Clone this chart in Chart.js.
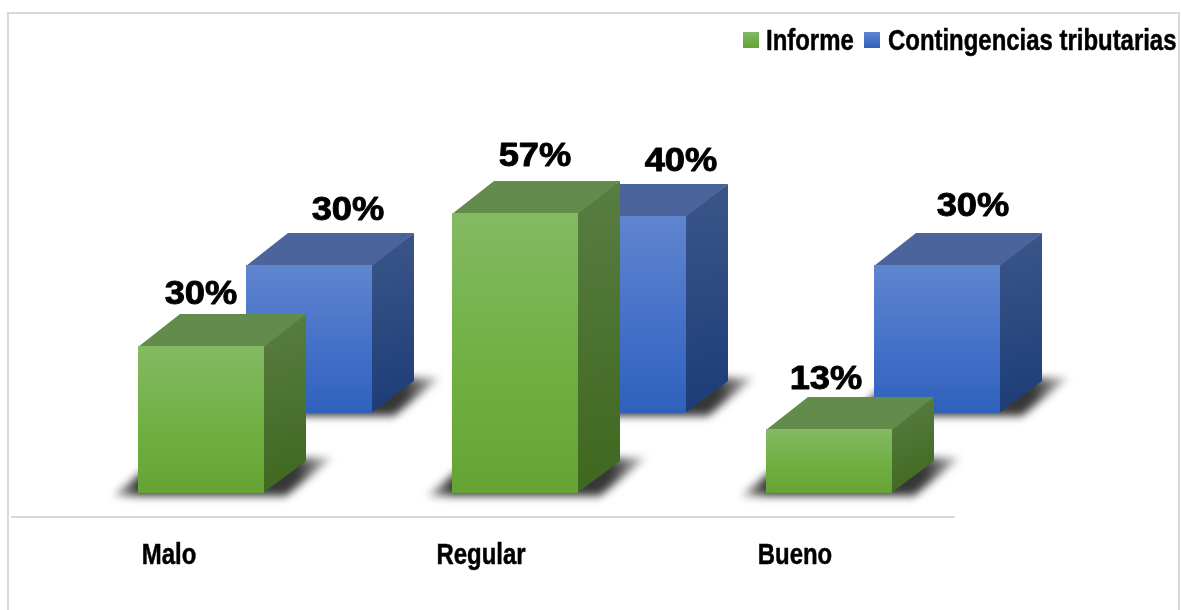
<!DOCTYPE html>
<html>
<head>
<meta charset="utf-8">
<title>Informe y contingencias tributarias</title>
<script src="https://cdn.jsdelivr.net/npm/chart.js@4/dist/chart.umd.min.js"></script>
<style>
  html, body { margin: 0; padding: 0; background: #fff; }
  #wrap { width: 1181px; height: 610px; }
</style>
</head>
<body>
<div id="wrap"><canvas id="chart"></canvas></div>
<script>
"use strict";

const categories = ['Malo', 'Regular', 'Bueno'];
const informeValues = [30, 57, 13];
const contingenciasValues = [30, 40, 30];
const seriesNames = ['Informe', 'Contingencias tributarias'];

// cuboid geometry, shared by both rows of bars
const DEPTH_X = 42;
const DEPTH_Y = 32;
const PX_PER_UNIT = 4.92;
const REAR_LIFT = 80.5 / PX_PER_UNIT; // rear row sits about 80px higher on the floor
const Y_MIN = -4.8;
const Y_MAX = 90;
const AXIS_Y = 517;

const rowStyles = [
  {
    shiftX: 32,
    front: ['#83ba63', '#70b042', '#65a334'],
    top: '#638b4b',
    side: ['#587e42', '#3e671e'],
    labelDx: [0, 20, -3],
    labelRise: [42, 47, 40]
  },
  {
    shiftX: 140,
    front: ['#6085cf', '#4471c8', '#2f61bb'],
    top: '#4b659c',
    side: ['#3c5689', '#1c3c77'],
    labelDx: [39, 58, 36],
    labelRise: [45, 45, 49]
  }
];

const tickNudge = [0, -2, -2];

// no narrow face is installed, so the bold sans is squeezed sideways
function narrowText(ctx, text, x, y, align) {
  ctx.save();
  ctx.translate(x, y);
  ctx.scale(0.825, 1);
  ctx.font = 'bold 29px "Liberation Sans"';
  ctx.textAlign = align;
  ctx.textBaseline = 'alphabetic';
  ctx.fillStyle = '#000';
  ctx.strokeStyle = '#000';
  ctx.lineWidth = 0.5;
  ctx.strokeText(text, 0, 0);
  ctx.fillText(text, 0, 0);
  ctx.restore();
}

function polygon(ctx, pts, fill) {
  ctx.beginPath();
  pts.forEach(function(p, i) {
    if (i === 0) ctx.moveTo(p[0], p[1]); else ctx.lineTo(p[0], p[1]);
  });
  ctx.closePath();
  ctx.fillStyle = fill;
  ctx.fill();
}

function drawCuboid(ctx, bar, style) {
  let left = Math.round(bar.x + style.shiftX - bar.width / 2);
  let right = left + Math.round(bar.width);
  let top = Math.round(bar.y);
  let base = Math.round(bar.base);

  // soft shadow on the floor, fading at its far corners
  let shadow = ctx.createLinearGradient(left - 26, 0, right + 68, 0);
  shadow.addColorStop(0, 'rgba(45,45,45,0.3)');
  shadow.addColorStop(0.12, 'rgba(45,45,45,0.95)');
  shadow.addColorStop(0.84, 'rgba(45,45,45,0.95)');
  shadow.addColorStop(1, 'rgba(45,45,45,0.25)');
  ctx.save();
  ctx.filter = 'blur(4px)';
  polygon(ctx, [
    [left - 25, base + 3], [right + 22, base + 3],
    [right + 68, base - 35], [left + 21, base - 35]
  ], shadow);
  ctx.restore();

  let frontFill = ctx.createLinearGradient(0, top, 0, base);
  frontFill.addColorStop(0, style.front[0]);
  frontFill.addColorStop(0.55, style.front[1]);
  frontFill.addColorStop(1, style.front[2]);

  let sideFill = ctx.createLinearGradient(right, top - DEPTH_Y, right + DEPTH_X, base);
  sideFill.addColorStop(0, style.side[0]);
  sideFill.addColorStop(1, style.side[1]);

  polygon(ctx, [
    [right - 1, top], [right + DEPTH_X, top - DEPTH_Y],
    [right + DEPTH_X, base - DEPTH_Y], [right - 1, base]
  ], sideFill);
  polygon(ctx, [
    [left, top + 1], [left + DEPTH_X, top - DEPTH_Y],
    [right + DEPTH_X, top - DEPTH_Y], [right, top + 1]
  ], style.top);
  ctx.fillStyle = frontFill;
  ctx.fillRect(left, top, right - left, base - top);
}

const cuboidBars = {
  id: 'cuboidBars',
  beforeDatasetDraw(chart, args) {
    let style = rowStyles[args.index];
    args.meta.data.forEach(function(bar) {
      drawCuboid(chart.ctx, bar, style);
    });
    return false; // flat rectangles are replaced by the cuboids
  }
};

const valueLabels = {
  id: 'valueLabels',
  afterDatasetsDraw(chart) {
    let ctx = chart.ctx;
    chart.data.datasets.forEach(function(ds, d) {
      let style = rowStyles[d];
      chart.getDatasetMeta(d).data.forEach(function(bar, i) {
        ctx.save();
        ctx.translate(bar.x + style.shiftX + style.labelDx[i], bar.y - style.labelRise[i]);
        ctx.scale(1.1, 1);
        ctx.font = 'bold 33px "Liberation Sans"';
        ctx.textAlign = 'center';
        ctx.textBaseline = 'alphabetic';
        ctx.fillStyle = '#000';
        ctx.strokeStyle = '#000';
        ctx.lineWidth = 0.9;
        ctx.lineJoin = 'round';
        ctx.strokeText(ds.data[i] + '%', 0, 0);
        ctx.fillText(ds.data[i] + '%', 0, 0);
        ctx.restore();
      });
    });
  }
};

// category names sit under the axis; the scale only supplies their centres
const categoryTicks = {
  id: 'categoryTicks',
  afterDraw(chart) {
    let scale = chart.scales.x;
    scale.getTicks().forEach(function(tick, i) {
      narrowText(chart.ctx, scale.getLabelForValue(tick.value), scale.getPixelForTick(i) + tickNudge[i], 564, 'center');
    });
  }
};

// legend has tighter box-to-text gaps than the built-in one allows
const topLegend = {
  id: 'topLegend',
  afterDraw(chart) {
    let ctx = chart.ctx;
    let swatchX = [743, 864];
    let textX = [766, 888];
    seriesNames.forEach(function(name, i) {
      let g = ctx.createLinearGradient(0, 32, 0, 48);
      g.addColorStop(0, rowStyles[i].front[0]);
      g.addColorStop(1, rowStyles[i].front[2]);
      ctx.fillStyle = g;
      ctx.fillRect(swatchX[i], 32, 16, 16);
      narrowText(ctx, name, textX[i], 50, 'left');
    });
  }
};

const frame = {
  id: 'frame',
  beforeDraw(chart) {
    let ctx = chart.ctx;
    ctx.save();
    ctx.strokeStyle = '#d9d9d9';
    ctx.lineWidth = 2;
    ctx.beginPath();
    ctx.moveTo(8, 610);
    ctx.lineTo(8, 13);
    ctx.lineTo(1179, 13);
    ctx.lineTo(1179, 610);
    ctx.stroke();
    ctx.restore();
  }
};

new Chart(document.getElementById('chart'), {
  type: 'bar',
  data: {
    labels: categories,
    datasets: [
      { label: seriesNames[0], data: informeValues, yAxisID: 'y', backgroundColor: '#70b042' },
      { label: seriesNames[1], data: contingenciasValues, yAxisID: 'yRear', backgroundColor: '#4471c8' }
    ]
  },
  plugins: [frame, cuboidBars, valueLabels, categoryTicks, topLegend],
  options: {
    responsive: true,
    maintainAspectRatio: false,
    animation: false,
    grouped: false,
    barThickness: 126,
    layout: {
      padding: { left: 12, right: 227, top: AXIS_Y - (Y_MAX - Y_MIN) * PX_PER_UNIT, bottom: 0 }
    },
    plugins: {
      legend: { display: false },
      tooltip: { enabled: false }
    },
    scales: {
      x: {
        grid: { display: false },
        border: { color: '#d9d9d9', width: 2 },
        ticks: { display: false },
        afterFit(scale) { scale.height = 610 - AXIS_Y; }
      },
      y: { display: false, min: Y_MIN, max: Y_MAX },
      yRear: { display: false, min: Y_MIN - REAR_LIFT, max: Y_MAX - REAR_LIFT }
    }
  }
});
</script>
</body>
</html>
